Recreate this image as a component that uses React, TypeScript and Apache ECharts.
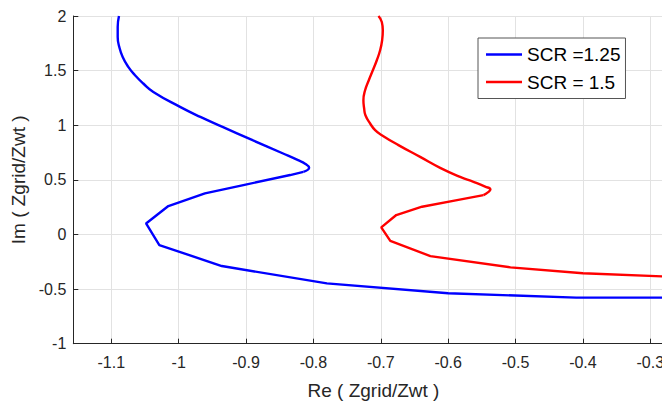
import React, { useEffect, useRef } from "react";
import * as echarts from "echarts";

const seriesNames = ["SCR =1.25", "SCR = 1.5"];
const seriesColors = ["#0000ff", "#ff0000"];

// SCR = 1.25 : [Re, Im] — smooth upper loop (top down to the tip)
const scr125Upper: number[][] = [
  [-1.0886, 2.0], [-1.0905, 1.899], [-1.0905, 1.808], [-1.0881, 1.716], [-1.0831, 1.625],
  [-1.0748, 1.534], [-1.0648, 1.458], [-1.0525, 1.382], [-1.0376, 1.305],
  [-0.998, 1.168], [-0.9678, 1.076], [-0.9349, 0.985], [-0.8903, 0.863], [-0.845, 0.741],
  [-0.8228, 0.68], [-0.8124, 0.648], [-0.8064, 0.61], [-0.8149, 0.573],
];
// SCR = 1.25 : [Re, Im] — piecewise lower part
const scr125Lower: number[][] = [
  [-0.8149, 0.573], [-0.8345, 0.544], [-0.904, 0.452],
  [-0.961, 0.376], [-1.0153, 0.26], [-1.0484, 0.101], [-1.0287, -0.097], [-0.936, -0.289],
  [-0.78, -0.448], [-0.6, -0.538], [-0.41, -0.578], [-0.25, -0.578],
];

// SCR = 1.5 : [Re, Im] — smooth upper part
const scr15Upper: number[][] = [
  [-0.7035, 2.0], [-0.6985, 1.945], [-0.697, 1.869], [-0.698, 1.778], [-0.701, 1.686],
  [-0.7059, 1.595], [-0.7118, 1.503], [-0.7178, 1.412], [-0.7233, 1.32], [-0.7258, 1.228],
  [-0.7247, 1.153], [-0.7228, 1.092], [-0.7158, 1.016], [-0.7084, 0.955], [-0.6985, 0.909],
  [-0.6738, 0.818], [-0.6416, 0.71], [-0.6119, 0.61], [-0.5822, 0.527], [-0.5624, 0.482],
  [-0.5451, 0.438], [-0.5373, 0.412], [-0.5406, 0.387], [-0.5476, 0.36],
];
// SCR = 1.5 : [Re, Im] — piecewise lower part
const scr15Lower: number[][] = [
  [-0.5476, 0.36], [-0.5868, 0.315],
  [-0.6388, 0.254], [-0.677, 0.178], [-0.6993, 0.065], [-0.6859, -0.058], [-0.6264, -0.198],
  [-0.5075, -0.301], [-0.4, -0.355], [-0.25, -0.392],
];

const xLabel = "Re ( Zgrid/Zwt )";
const yLabel = "Im ( Zgrid/Zwt )";

export default function App() {
  const ref = useRef<HTMLDivElement>(null);
  useEffect(() => {
    if (!ref.current) return;
    const chart = echarts.init(ref.current, undefined, { renderer: "svg" });
    const font = "'Liberation Sans', Arial, Helvetica, sans-serif";
    const axisColor = "#262626";
    const gridColor = "#e2e2e2";
    const mk = (name: string, color: string, data: number[][], smooth: number | boolean) => ({
      name,
      type: "line",
      data,
      showSymbol: false,
      symbol: "none",
      smooth,
      clip: true,
      lineStyle: { color, width: 2.4 },
      itemStyle: { color },
    });
    chart.setOption({
      animation: false,
      backgroundColor: "#ffffff",
      grid: {
        left: 73.3,
        top: 16,
        width: 600.3,
        height: 327.7,
        containLabel: false,
        outerBoundsMode: "none",
      },
      legend: {
        orient: "vertical",
        left: 478,
        top: 38,
        padding: [7, 5, 7, 8],
        itemGap: 8.5,
        itemWidth: 36,
        itemHeight: 2.4,
        icon: "rect",
        backgroundColor: "#ffffff",
        borderColor: "#555555",
        borderWidth: 1,
        textStyle: { fontSize: 19, color: "#000000", fontFamily: font },
        data: seriesNames,
      },
      xAxis: {
        type: "value",
        min: -1.1564,
        max: -0.2654,
        splitNumber: 9,
        minInterval: 0.1,
        maxInterval: 0.1,
        name: xLabel,
        nameLocation: "middle",
        nameGap: 37,
        nameTextStyle: { fontSize: 19, color: axisColor, fontFamily: font },
        axisLine: { show: true, onZero: false, lineStyle: { color: axisColor, width: 1 } },
        axisTick: { show: true, inside: true, length: 5, lineStyle: { color: axisColor } },
        axisLabel: {
          fontSize: 16,
          color: axisColor,
          fontFamily: font,
          margin: 11,
          showMinLabel: false,
          showMaxLabel: false,
        },
        splitLine: { show: true, lineStyle: { color: gridColor, width: 1 } },
      },
      yAxis: {
        type: "value",
        min: -1,
        max: 2,
        interval: 0.5,
        name: yLabel,
        nameLocation: "middle",
        nameGap: 41,
        nameTextStyle: { fontSize: 19, color: axisColor, fontFamily: font },
        axisLine: { show: true, onZero: false, lineStyle: { color: axisColor, width: 1 } },
        axisTick: { show: true, inside: true, length: 5, lineStyle: { color: axisColor } },
        axisLabel: { fontSize: 16, color: axisColor, fontFamily: font, margin: 7 },
        splitLine: { show: true, lineStyle: { color: gridColor, width: 1 } },
      },
      series: [
        mk(seriesNames[0], seriesColors[0], scr125Upper, 0.5),
        mk(seriesNames[0], seriesColors[0], scr125Lower, false),
        mk(seriesNames[1], seriesColors[1], scr15Upper, 0.5),
        mk(seriesNames[1], seriesColors[1], scr15Lower, false),
      ],
    });
    return () => chart.dispose();
  }, []);
  return (
    <div
      ref={ref}
      style={{ position: "absolute", left: 0, top: 0, width: 662, height: 405, overflow: "hidden" }}
    />
  );
}
